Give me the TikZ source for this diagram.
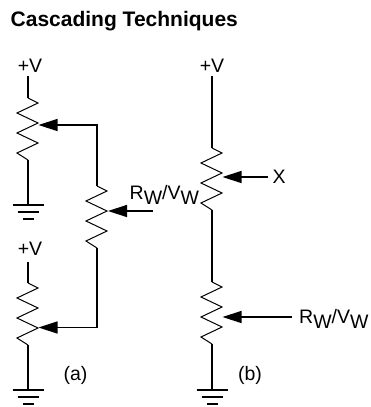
\documentclass[tikz,border=0pt]{standalone}
\usepackage{fontspec}
\setmainfont{Liberation Sans}
\usetikzlibrary{positioning,arrows.meta}
\newcommand{\rwvw}{R\raisebox{-5.5pt}{W}/V\raisebox{-5.5pt}{W}}

\begin{document}
\begin{tikzpicture}[x=1pt,y=-1pt,line width=1.4pt,
  wiper/.style={-{Triangle[length=19pt,width=12pt]}},
  lab/.style={inner sep=0pt,anchor=base,font=\fontsize{19.5}{20}\selectfont},
  title/.style={inner sep=0pt,anchor=base west,font=\fontsize{21}{22}\selectfont\bfseries},
  zigzag/.pic={
    \coordinate (-top) at (0,0);
    \coordinate (-bottom) at (0,62);
    \draw[line width=1pt] (0,0) -- (10,5) -- (-11,15) -- (10,25) -- (-11,35)
      -- (10,45) -- (-11,55) -- (0,62);
  },
  earth/.pic={
    \coordinate (-top) at (0,0);
    \draw (-15.5,0) -- (15.5,0);
    \draw (-10.5,7) -- (10.5,7);
    \draw (-5.5,14) -- (5.5,14);
  }]
   \useasboundingbox (0,0) rectangle (370,407);
   \node[title] (heading) at (10,26) {Cascading Techniques};

   % left column
   \node[lab] (va) at (30,72) {+V};
   \coordinate (va_in) at (28,76);
   \pic (r1) at (28,98) {zigzag};
   \coordinate (r1_w) at (38.5,125);
   \pic (g1) at (28,205) {earth};
   \coordinate (c1) at (97,125);
   \coordinate (r2_out) at (97,182);
   \pic (r2) at (97,186) {zigzag};
   \coordinate (r2_w) at (108,211);
   \node[lab,anchor=base west] (rv1) at (129,199) {\rwvw};
   \coordinate (rv1_in) at (153,211);
   \node[lab] (vb) at (30,255) {+V};
   \coordinate (vb_in) at (28,262);
   \pic (r3) at (28,283) {zigzag};
   \coordinate (r3_w) at (38.5,327.5);
   \pic (g2) at (28,390) {earth};
   \coordinate (c2) at (97,327.5);
   \node[lab] (a) at (75.5,380) {(a)};

   % right column
   \node[lab] (vc) at (212,72) {+V};
   \coordinate (vc_in) at (212,76);
   \pic (r4) at (212,148) {zigzag};
   \coordinate (r4_w) at (222.5,177);
   \node[lab,anchor=base west] (x) at (272,183) {X};
   \coordinate (x_in) at (268,177);
   \pic (r5) at (212,282) {zigzag};
   \coordinate (r5_w) at (222.5,317);
   \node[lab,anchor=base west] (rv2) at (298.5,323) {\rwvw};
   \coordinate (rv2_in) at (292,317);
   \pic (g3) at (212,390) {earth};
   \node[lab] (b) at (250,380) {(b)};

   \draw (va_in) -- (r1-top);
   \draw (r1-bottom) -- (g1-top);
   \draw[wiper] (r2_out) -- (c1) -- (r1_w);
   \draw (r2_out) -- (r2-top);
   \draw[wiper] (rv1_in) -- (r2_w);
   \draw[wiper] (r2-bottom) -- (c2) -- (r3_w);
   \draw (vb_in) -- (r3-top);
   \draw (r3-bottom) -- (g2-top);
   \draw (vc_in) -- (r4-top);
   \draw[wiper] (x_in) -- (r4_w);
   \draw (r4-bottom) -- (r5-top);
   \draw[wiper] (rv2_in) -- (r5_w);
   \draw (r5-bottom) -- (g3-top);
\end{tikzpicture}
\end{document}
